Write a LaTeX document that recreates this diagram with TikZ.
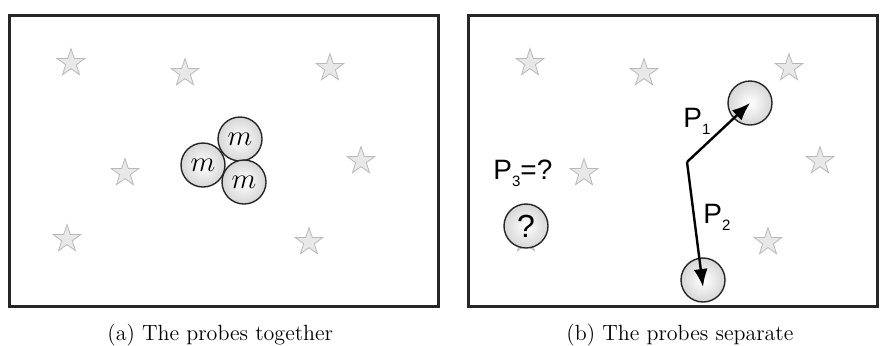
\documentclass[tikz,border=0pt]{standalone}
\usepackage{fontspec}
\newfontfamily\labelfont{Liberation Sans}
\usetikzlibrary{shapes.geometric,arrows.meta}

\tikzset{
  skystar/.style={star, star points=5, star point ratio=2.55, minimum size=14.4pt,
    inner sep=0pt, fill=gray!18, draw=gray!55, line width=0.4pt},
  probe/.style={circle, minimum size=22pt, inner sep=0pt, draw=black!85,
    line width=0.7pt, inner color=white, outer color=gray!32},
  frame/.style={draw=black!85, line width=1.5pt},
  lbl/.style={anchor=base west, inner sep=0pt, font=\labelfont\fontsize{14}{16}\selectfont},
  capt/.style={anchor=base west, inner sep=0pt, font=\fontsize{11}{13}\selectfont},
  move/.style={line width=1.2pt, -{Latex[length=9pt,width=7pt]}},
}
\newcommand{\lsub}[1]{\raisebox{-3.5pt}{\fontsize{7.5}{8}\selectfont #1}}

\begin{document}
\begin{tikzpicture}[x=0.5pt,y=-0.5pt]
    \useasboundingbox (0,0) rectangle (886,345);

    % the two panels
    \draw[frame] (9,15) rectangle (438,306);
    \draw[frame] (468,15) rectangle (877,306);

    % the same sky in both panels
    \foreach \x/\y [count=\i] in {71/63,185/73,330/68,125/173,361/161,67/239,309/242}{
      \node[skystar] (sa\i) at (\x,\y) {};
      \node[skystar] (sb\i) at (\x+459,\y) {};
    }

    % (a) probes together
    \node[probe, font=\fontsize{14}{16}\selectfont] (m1) at (240,139) {$m$};
    \node[probe, font=\fontsize{14}{16}\selectfont] (m2) at (203,165) {$m$};
    \node[probe, font=\fontsize{14}{16}\selectfont] (m3) at (244,182) {$m$};

    % (b) probes separate
    \node[probe, font=\labelfont\fontsize{16}{18}\selectfont] (q) at (526,226) {?};
    \node[probe] (p1) at (750,103) {};
    \node[probe] (p2) at (703,280) {};
    \coordinate (turn) at (687,162);
    \draw[move] (turn) -- (p1.center);
    \draw[move] (turn) -- ([yshift=-3.5pt]p2.center);

    \node[lbl] (l1) at (683,127) {P\lsub{1}};
    \node[lbl] (l2) at (703,223) {P\lsub{2}};
    \node[lbl] (l3) at (493,179) {P\lsub{3}=?};

    % captions
    \node[capt] (capa) at (107,340) {(a) The probes together};
    \node[capt] (capb) at (566,340) {(b) The probes separate};
\end{tikzpicture}
\end{document}
